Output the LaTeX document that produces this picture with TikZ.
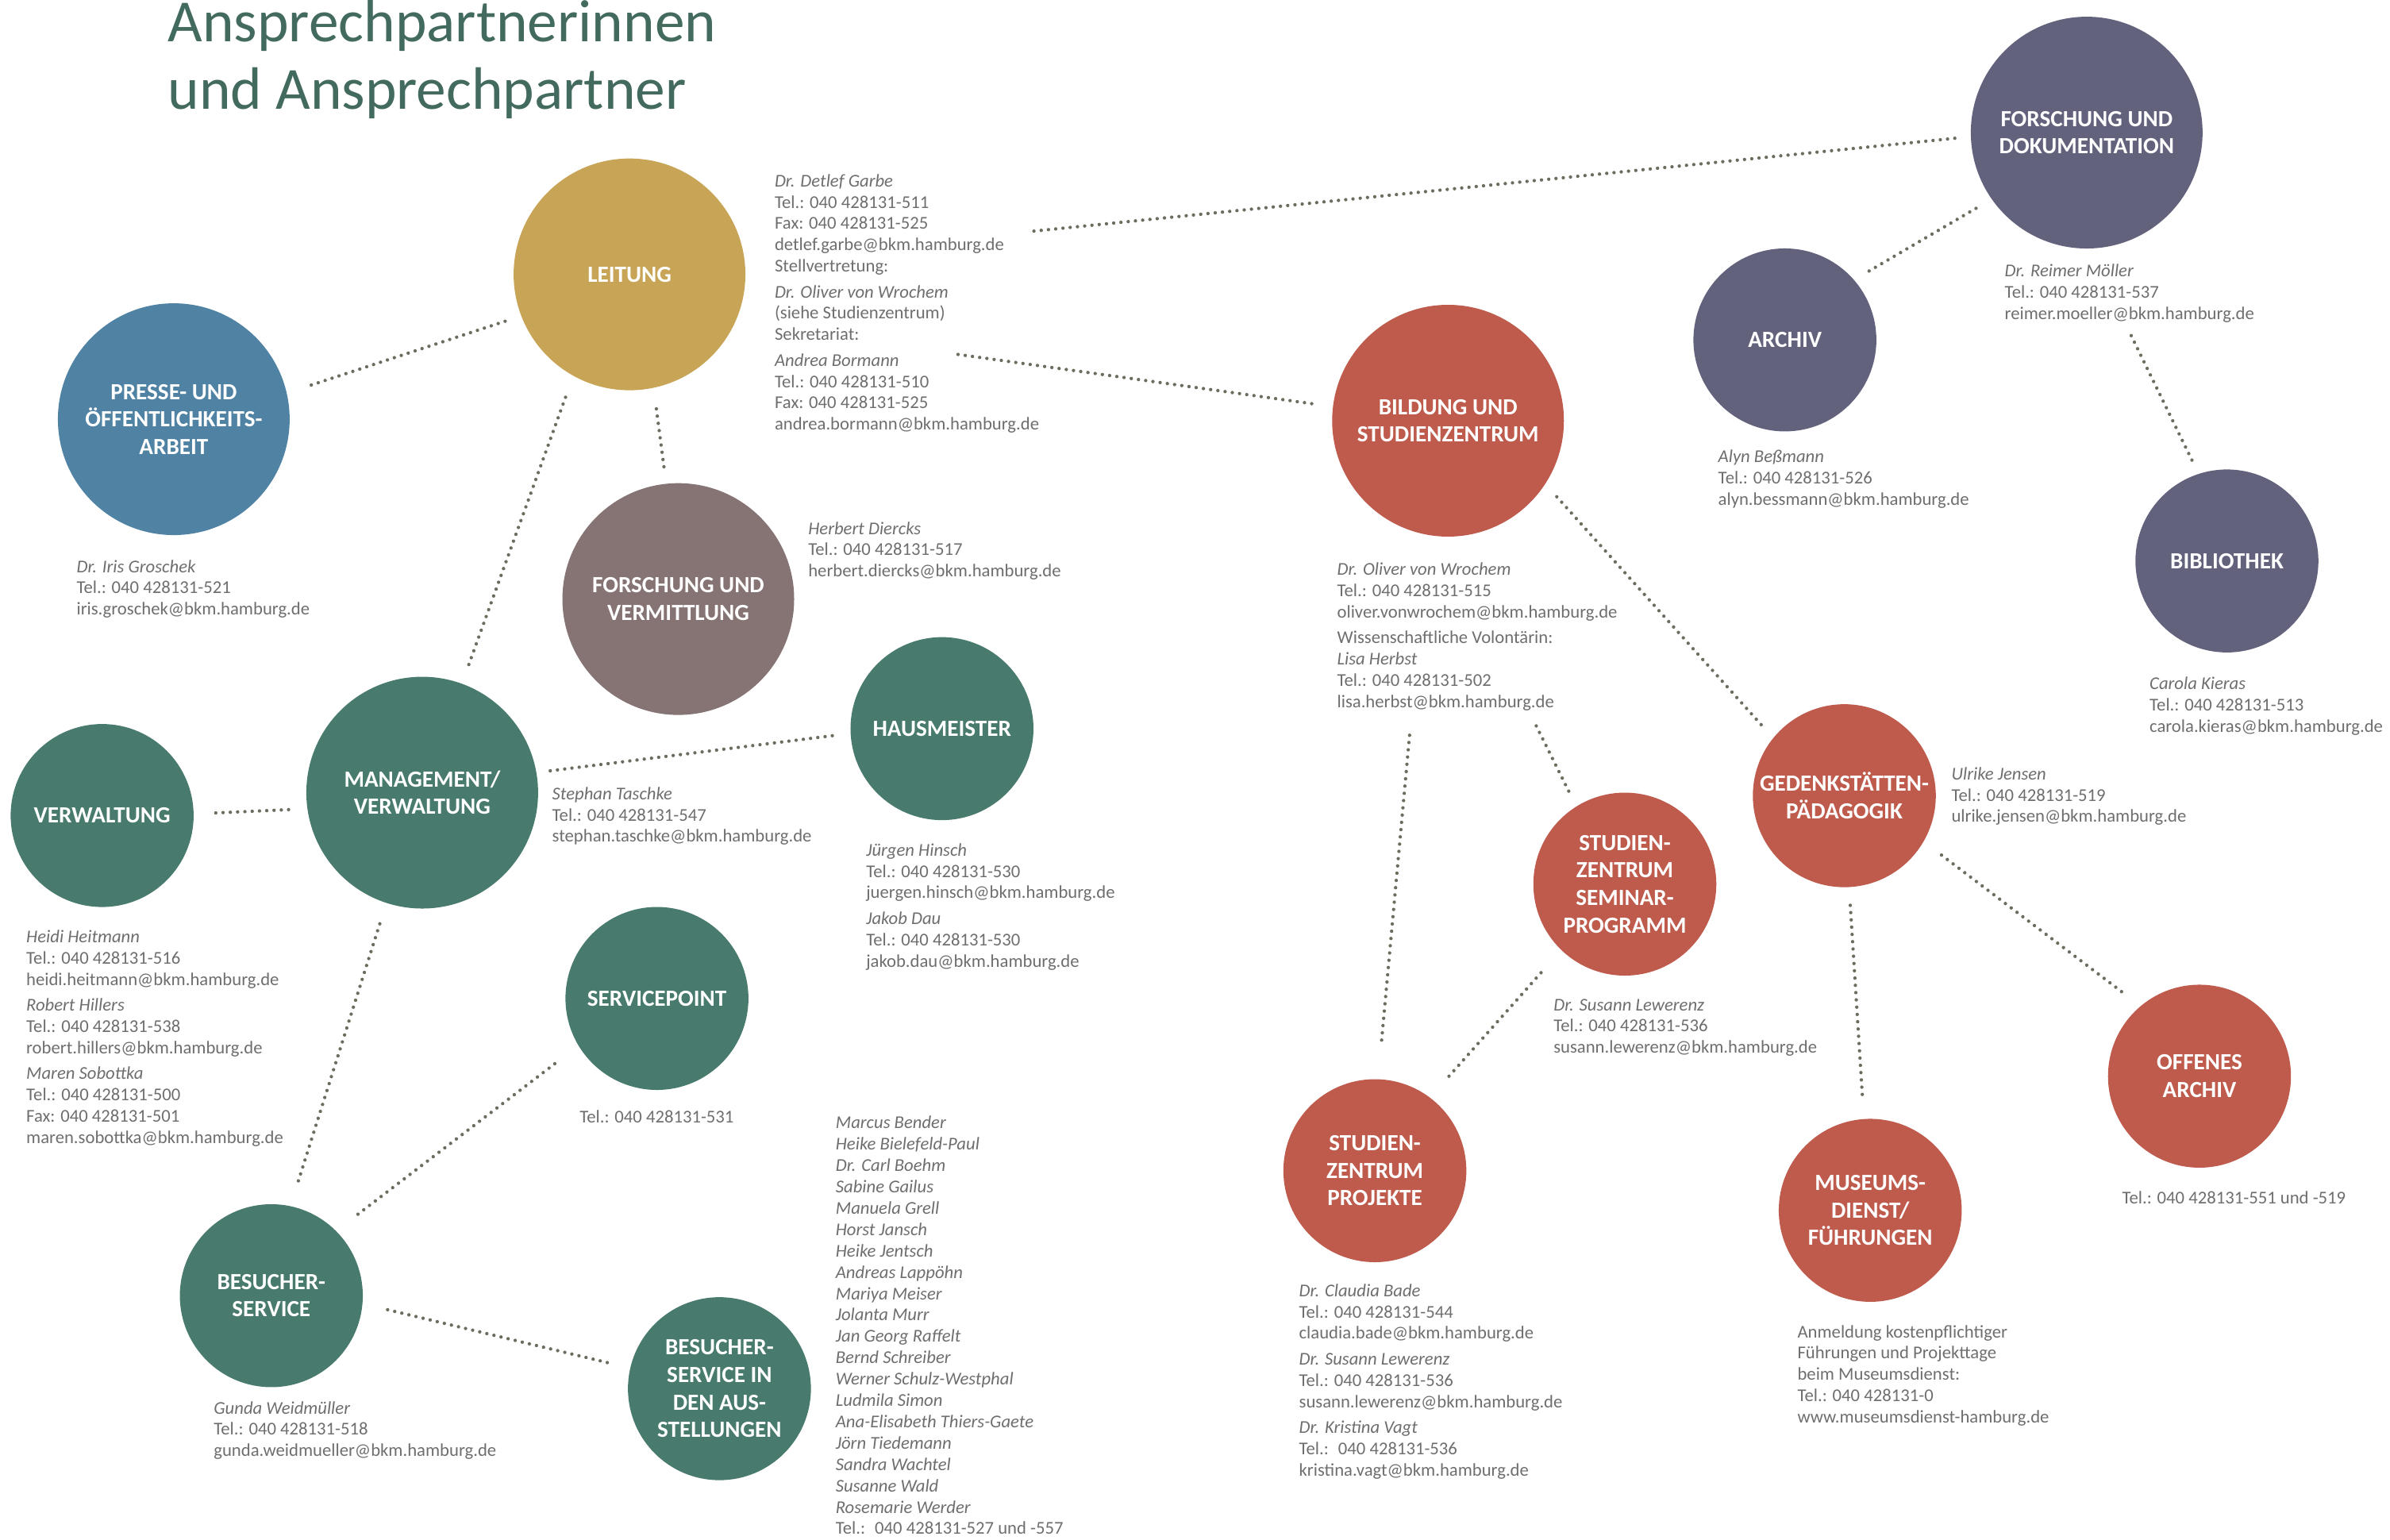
\documentclass[tikz,border=0pt]{standalone}
\usepackage{fontspec}
\setmainfont{Carlito}
\definecolor{gold}{HTML}{C8A556}
\definecolor{steel}{HTML}{5082A3}
\definecolor{mauve}{HTML}{867474}
\definecolor{pine}{HTML}{487B6E}
\definecolor{slate}{HTML}{63627D}
\definecolor{brick}{HTML}{BF5B4C}
\definecolor{titlegreen}{HTML}{436A5E}
\definecolor{txtgrey}{HTML}{6E6E6E}
\definecolor{dotgrey}{HTML}{6C6C5F}
\begin{document}
\begin{tikzpicture}[x=0.025cm, y=-0.025cm,
	dept/.style={circle, fill=#1, text=white, inner sep=0pt, outer sep=0pt, align=center, font=\fontsize{10.8}{12.8}\selectfont\bfseries},
	big/.style={minimum size=3.8cm},
	small/.style={minimum size=3cm},
	info/.style={anchor=north west, inner sep=0pt, align=left, text=txtgrey, font=\fontsize{8.4}{9.96}\selectfont},
	dotline/.style={draw=dotgrey, line width=1.6pt, line cap=round, dash pattern=on 0pt off 3.4pt}]
	\useasboundingbox (0,0) rectangle (1568,1010);
	\node[anchor=north west, inner sep=0pt, align=left, text=titlegreen, font=\fontsize{27.9}{31.3}\selectfont] (title) at (110,0) {Ansprechpartnerinnen\\und Ansprechpartner};

	\node[dept=gold, big] (leitung) at (413,180) {LEITUNG};
	\node[dept=steel, big] (presse) at (114,275) {PRESSE- UND\\ÖFFENTLICHKEITS-\\ARBEIT};
	\node[dept=mauve, big] (forschverm) at (445,393) {FORSCHUNG UND\\VERMITTLUNG};
	\node[dept=pine, big] (mgmt) at (277,520) {MANAGEMENT/\\VERWALTUNG};
	\node[dept=pine, small] (verwaltung) at (67,535) {VERWALTUNG};
	\node[dept=pine, small] (hausmeister) at (618,478) {HAUSMEISTER};
	\node[dept=pine, small] (servicepoint) at (431,655) {SERVICEPOINT};
	\node[dept=pine, small] (besucher) at (178,850) {BESUCHER-\\SERVICE};
	\node[dept=pine, small] (ausstellungen) at (472,911) {BESUCHER-\\SERVICE IN\\DEN AUS-\\STELLUNGEN};
	\node[dept=slate, big] (forschdok) at (1369,87) {FORSCHUNG UND\\DOKUMENTATION};
	\node[dept=slate, small] (archiv) at (1171,223) {ARCHIV};
	\node[dept=slate, small] (biblio) at (1461,368) {BIBLIOTHEK};
	\node[dept=brick, big] (bildung) at (950,276) {BILDUNG UND\\STUDIENZENTRUM};
	\node[dept=brick, small] (gedenk) at (1210,522) {GEDENKSTÄTTEN-\\PÄDAGOGIK};
	\node[dept=brick, small] (seminar) at (1066,580) {STUDIEN-\\ZENTRUM\\SEMINAR-\\PROGRAMM};
	\node[dept=brick, small] (projekte) at (902,768) {STUDIEN-\\ZENTRUM\\PROJEKTE};
	\node[dept=brick, small] (museum) at (1227,794) {MUSEUMS-\\DIENST/\\FÜHRUNGEN};
	\node[dept=brick, small] (offenes) at (1443,706) {OFFENES\\ARCHIV};

	\node[info] (leitungtxt) at (508,114) {\textit{Dr. Detlef Garbe}\\Tel.: 040 428131-511\\Fax: 040 428131-525\\detlef.garbe@bkm.hamburg.de\\Stellvertretung:\\[2pt]\textit{Dr. Oliver von Wrochem}\\(siehe Studienzentrum)\\Sekretariat:\\[2pt]\textit{Andrea Bormann}\\Tel.: 040 428131-510\\Fax: 040 428131-525\\andrea.bormann@bkm.hamburg.de};
	\node[info] (pressetxt) at (50,367) {\textit{Dr. Iris Groschek}\\Tel.: 040 428131-521\\iris.groschek@bkm.hamburg.de};
	\node[info] (forschvermtxt) at (530,342) {\textit{Herbert Diercks}\\Tel.: 040 428131-517\\herbert.diercks@bkm.hamburg.de};
	\node[info] (mgmttxt) at (362,516) {\textit{Stephan Taschke}\\Tel.: 040 428131-547\\stephan.taschke@bkm.hamburg.de};
	\node[info] (hausmeistertxt) at (568,553) {\textit{Jürgen Hinsch}\\Tel.: 040 428131-530\\juergen.hinsch@bkm.hamburg.de\\[2pt]\textit{Jakob Dau}\\Tel.: 040 428131-530\\jakob.dau@bkm.hamburg.de};
	\node[info] (verwaltungtxt) at (17,610) {\textit{Heidi Heitmann}\\Tel.: 040 428131-516\\heidi.heitmann@bkm.hamburg.de\\[2pt]\textit{Robert Hillers}\\Tel.: 040 428131-538\\robert.hillers@bkm.hamburg.de\\[2pt]\textit{Maren Sobottka}\\Tel.: 040 428131-500\\Fax: 040 428131-501\\maren.sobottka@bkm.hamburg.de};
	\node[info] (servicepointtxt) at (380,728) {Tel.: 040 428131-531};
	\node[info] (besuchertxt) at (140,919) {\textit{Gunda Weidmüller}\\Tel.: 040 428131-518\\gunda.weidmueller@bkm.hamburg.de};
	\node[info] (ausstellungentxt) at (548,732) {\textit{Marcus Bender}\\\textit{Heike Bielefeld-Paul}\\\textit{Dr. Carl Boehm}\\\textit{Sabine Gailus}\\\textit{Manuela Grell}\\\textit{Horst Jansch}\\\textit{Heike Jentsch}\\\textit{Andreas Lappöhn}\\\textit{Mariya Meiser}\\\textit{Jolanta Murr}\\\textit{Jan Georg Raffelt}\\\textit{Bernd Schreiber}\\\textit{Werner Schulz-Westphal}\\\textit{Ludmila Simon}\\\textit{Ana-Elisabeth Thiers-Gaete}\\\textit{Jörn Tiedemann}\\\textit{Sandra Wachtel}\\\textit{Susanne Wald}\\\textit{Rosemarie Werder}\\Tel.:~ 040 428131-527 und -557};
	\node[info] (forschdoktxt) at (1315,173) {\textit{Dr. Reimer Möller}\\Tel.: 040 428131-537\\reimer.moeller@bkm.hamburg.de};
	\node[info] (archivtxt) at (1127,295) {\textit{Alyn Beßmann}\\Tel.: 040 428131-526\\alyn.bessmann@bkm.hamburg.de};
	\node[info] (bibliotxt) at (1410,444) {\textit{Carola Kieras}\\Tel.: 040 428131-513\\carola.kieras@bkm.hamburg.de};
	\node[info] (bildungtxt) at (877,369) {\textit{Dr. Oliver von Wrochem}\\Tel.: 040 428131-515\\oliver.vonwrochem@bkm.hamburg.de\\[2pt]Wissenschaftliche Volontärin:\\\textit{Lisa Herbst}\\Tel.: 040 428131-502\\lisa.herbst@bkm.hamburg.de};
	\node[info] (gedenktxt) at (1280,503) {\textit{Ulrike Jensen}\\Tel.: 040 428131-519\\ulrike.jensen@bkm.hamburg.de};
	\node[info] (seminartxt) at (1019,655) {\textit{Dr. Susann Lewerenz}\\Tel.: 040 428131-536\\susann.lewerenz@bkm.hamburg.de};
	\node[info] (projektetxt) at (852,842) {\textit{Dr. Claudia Bade}\\Tel.: 040 428131-544\\claudia.bade@bkm.hamburg.de\\[2pt]\textit{Dr. Susann Lewerenz}\\Tel.: 040 428131-536\\susann.lewerenz@bkm.hamburg.de\\[2pt]\textit{Dr. Kristina Vagt}\\Tel.:~ 040 428131-536\\kristina.vagt@bkm.hamburg.de};
	\node[info] (museumtxt) at (1179,869) {Anmeldung kostenpflichtiger\\Führungen und Projekttage\\beim Museumsdienst:\\Tel.: 040 428131-0\\www.museumsdienst-hamburg.de};
	\node[info] (offenestxt) at (1392,781) {Tel.: 040 428131-551 und -519};

	\draw[dotline, shorten <=0.425cm, shorten >=0.25cm] (presse.13) -- (leitung.201);
	\draw[dotline, shorten <=0.375cm, shorten >=0.25cm] (leitung.-119) -- (mgmt.70);
	\draw[dotline, shorten <=0.35cm, shorten >=0.24cm] (leitung.-78) -- (forschverm.96);
	\draw[dotline, shorten <=4.77cm, shorten >=0.18cm] (leitung.7.7) -- (forschdok.182.5);
	\draw[dotline, shorten <=3.7cm, shorten >=0.265cm] (leitung.-25.7) -- (bildung.173.6);
	\draw[dotline, shorten <=0.285cm, shorten >=0.275cm] (bildung.-33) -- (gedenk.141);
	\draw[dotline, shorten <=3.3cm, shorten >=0.53cm] (bildung.-100.9) -- (projekte.88);
	\draw[dotline, shorten <=3.47cm, shorten >=0.26cm] (bildung.-93.1) -- (seminar.122.6);
	\draw[dotline, shorten <=0.5cm, shorten >=0.42cm] (seminar.-134.5) -- (projekte.53);
	\draw[dotline, shorten <=0.3cm, shorten >=0.33cm] (gedenk.-87) -- (museum.94);
	\draw[dotline, shorten <=0.37cm, shorten >=0.38cm] (gedenk.-30) -- (offenes.130);
	\draw[dotline, shorten <=0.3cm, shorten >=0.235cm] (forschdok.-145) -- (archiv.41.5);
	\draw[dotline, shorten <=1.59cm, shorten >=0.195cm] (forschdok.-89.4) -- (biblio.108);
	\draw[dotline, shorten <=0.31cm, shorten >=0.34cm] (mgmt.188) -- (verwaltung.1);
	\draw[dotline, shorten <=0.23cm, shorten >=0.3cm] (mgmt.10) -- (hausmeister.183);
	\draw[dotline, shorten <=0.36cm, shorten >=0.38cm] (mgmt.-108) -- (besucher.78);
	\draw[dotline, shorten <=0.49cm, shorten >=0.4cm] (servicepoint.-149) -- (besucher.45);
	\draw[dotline, shorten <=0.425cm, shorten >=0.33cm] (besucher.-5) -- (ausstellungen.167);
\end{tikzpicture}
\end{document}
